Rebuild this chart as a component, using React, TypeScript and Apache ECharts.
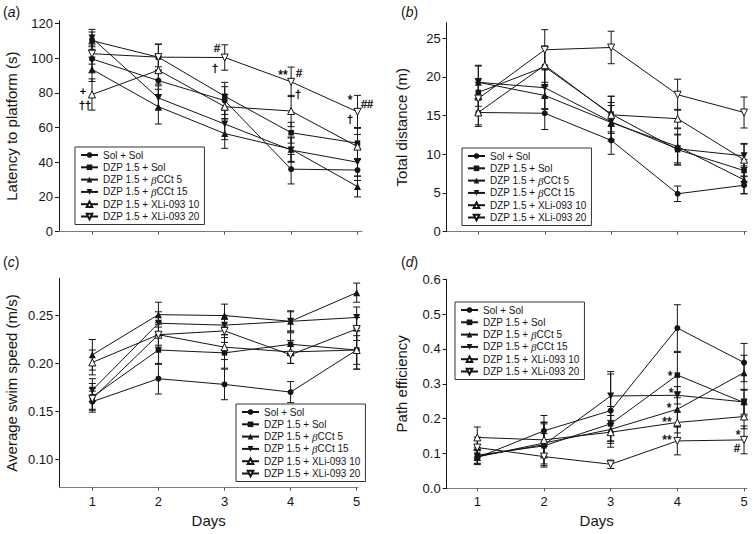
import React, { useEffect, useRef } from 'react';
import * as echarts from 'echarts';

const days = [1, 2, 3, 4, 5];
const groups = [
  'Sol + Sol',
  'DZP 1.5 + Sol',
  'DZP 1.5 + βCCt 5',
  'DZP 1.5 + βCCt 15',
  'DZP 1.5 + XLi-093 10',
  'DZP 1.5 + XLi-093 20',
];

// (a) Latency to platform (s): one row per group, one value per day
const latencyMean = [
  [99.5, 87, 75.5, 36, 35.5],
  [110, 100.5, 78, 57, 51],
  [93.5, 72, 56.5, 47.5, 26],
  [111.5, 77, 62, 47, 40],
  [79, 93, 72, 69.5, 49],
  [102.5, 100.5, 100.3, 86.3, 69],
];
const latencySE = [
  [8, 8, 8, 8.5, 6],
  [5, 7.5, 8, 6, 9],
  [7, 10, 8.5, 7, 6],
  [5, 7, 9, 7, 8],
  [9, 8, 7, 9, 7],
  [6, 7.5, 7.3, 8.5, 9.5],
];

// (b) Total distance (m)
const distanceMean = [
  [15.4, 15.3, 11.8, 4.9, 6.0],
  [18.0, 21.3, 15.2, 10.6, 7.9],
  [19.3, 17.6, 14.1, 11.0, 6.7],
  [19.3, 18.6, 14.2, 10.7, 9.8],
  [15.4, 21.5, 15.1, 14.6, 9.3],
  [17.2, 23.5, 23.8, 17.7, 15.4],
];
const distanceSE = [
  [1.8, 2.1, 1.8, 1.0, 1.1],
  [1.8, 2.5, 2.3, 2.0, 1.4],
  [2.2, 1.7, 2.2, 2.3, 1.8],
  [2.1, 2.8, 2.5, 1.8, 1.5],
  [1.6, 2.5, 2.4, 1.2, 2.1],
  [2.1, 2.6, 2.1, 2.0, 2.0],
];

// (c) Average swim speed (m/s)
const speedMean = [
  [0.160, 0.184, 0.178, 0.170, 0.214],
  [0.165, 0.214, 0.211, 0.220, 0.214],
  [0.209, 0.251, 0.250, 0.244, 0.274],
  [0.172, 0.242, 0.240, 0.244, 0.248],
  [0.201, 0.230, 0.217, 0.212, 0.214],
  [0.163, 0.230, 0.234, 0.209, 0.236],
];
const speedSE = [
  [0.011, 0.016, 0.016, 0.011, 0.020],
  [0.014, 0.015, 0.016, 0.012, 0.015],
  [0.016, 0.013, 0.012, 0.011, 0.010],
  [0.012, 0.012, 0.010, 0.010, 0.011],
  [0.013, 0.011, 0.013, 0.012, 0.020],
  [0.011, 0.013, 0.012, 0.009, 0.012],
];

// (d) Path efficiency
const efficiencyMean = [
  [0.088, 0.165, 0.223, 0.460, 0.361],
  [0.095, 0.122, 0.185, 0.325, 0.246],
  [0.090, 0.130, 0.169, 0.227, 0.332],
  [0.092, 0.125, 0.265, 0.267, 0.248],
  [0.146, 0.139, 0.161, 0.189, 0.206],
  [0.117, 0.091, 0.069, 0.136, 0.139],
];
const efficiencySE = [
  [0.020, 0.044, 0.105, 0.067, 0.055],
  [0.015, 0.035, 0.050, 0.065, 0.038],
  [0.020, 0.060, 0.040, 0.050, 0.050],
  [0.020, 0.060, 0.070, 0.025, 0.035],
  [0.030, 0.050, 0.025, 0.030, 0.035],
  [0.030, 0.030, 0.012, 0.040, 0.040],
];

// significance marks: [day position, value position, text]
const latencyMarks: [number, number, string][] = [
  [0.86, 81.0, '+'],
  [0.895, 72.8, '††'],
  [2.89, 105.9, '#'],
  [2.855, 94.4, '†'],
  [3.885, 92.1, '**'],
  [4.125, 91.2, '#'],
  [4.11, 79.3, '†'],
  [4.89, 77.7, '*'],
  [5.14, 73.5, '##'],
  [4.88, 64.9, '†'],
];
const efficiencyMarks: [number, number, string][] = [
  [3.889, 0.332, '*'],
  [3.9, 0.282, '*'],
  [3.88, 0.238, '*'],
  [3.84, 0.199, '**'],
  [3.84, 0.148, '**'],
  [4.904, 0.163, '*'],
  [4.9, 0.117, '#'],
];

const latencyTicks = [0, 20, 40, 60, 80, 100, 120];
const distanceTicks = [0, 5, 10, 15, 20, 25];
const speedTicks = [0.10, 0.15, 0.20, 0.25];
const efficiencyTicks = [0, 0.1, 0.2, 0.3, 0.4, 0.5, 0.6];

const INK = '#151515';
const FONT = 'Liberation Sans, Arial, Helvetica, sans-serif';
const INV = 'path://M0,0L10,0L5,10Z';
const symbols = ['circle', 'rect', 'triangle', INV, 'triangle', INV];
const symbolSizes = [6, 5.5, 7, 7, 7, 7];
const fills = [INK, INK, INK, INK, '#ffffff', '#ffffff'];

type Panel = {
  label: string;
  grid: { left: number; top: number; width: number; height: number };
  xMin: number;
  xMax: number;
  yMin: number;
  yMax: number;
  ticks: number[];
  fmt: (v: number) => string;
  name: string;
  nameGap: number;
  showX: boolean;
  mean: number[][];
  se: number[][];
  marks: [number, number, string][];
  legend: { left: number; top: number };
  labelPos: [number, number];
};

const panels: Panel[] = [
  {
    label: 'a',
    grid: { left: 59, top: 20.7, width: 303, height: 211 },
    xMin: 0.503, xMax: 5.068, yMin: 0, yMax: 121.5,
    ticks: latencyTicks, fmt: (v) => String(v),
    name: 'Latency to platform (s)', nameGap: 40, showX: false,
    mean: latencyMean, se: latencySE, marks: latencyMarks,
    legend: { left: 75, top: 147 }, labelPos: [3, 5],
  },
  {
    label: 'b',
    grid: { left: 446.7, top: 22.7, width: 300, height: 209 },
    xMin: 0.524, xMax: 5.04, yMin: 0, yMax: 27,
    ticks: distanceTicks, fmt: (v) => String(v),
    name: 'Total distance (m)', nameGap: 38, showX: false,
    mean: distanceMean, se: distanceSE, marks: [],
    legend: { left: 462, top: 148 }, labelPos: [401, 5],
  },
  {
    label: 'c',
    grid: { left: 59.3, top: 278.3, width: 298.7, height: 209.4 },
    xMin: 0.5, xMax: 5.02, yMin: 0.07, yMax: 0.289,
    ticks: speedTicks, fmt: (v) => v.toFixed(2),
    name: 'Average swim speed (m/s)', nameGap: 40, showX: true,
    mean: speedMean, se: speedSE, marks: [],
    legend: { left: 236, top: 404 }, labelPos: [3, 255],
  },
  {
    label: 'd',
    grid: { left: 446.7, top: 279.3, width: 300, height: 209 },
    xMin: 0.541, xMax: 5.04, yMin: 0, yMax: 0.6,
    ticks: efficiencyTicks, fmt: (v) => v.toFixed(1),
    name: 'Path efficiency', nameGap: 38, showX: true,
    mean: efficiencyMean, se: efficiencySE, marks: efficiencyMarks,
    legend: { left: 455, top: 302 }, labelPos: [401, 255],
  },
];

function buildOption() {
  const grid: any[] = [];
  const xAxis: any[] = [];
  const yAxis: any[] = [];
  const series: any[] = [];
  const legend: any[] = [];
  const graphic: any[] = [];

  panels.forEach((p, pi) => {
    grid.push({ ...p.grid, containLabel: false });
    xAxis.push({
      type: 'value',
      gridIndex: pi,
      min: p.xMin,
      max: p.xMax,
      name: p.showX ? 'Days' : '',
      nameLocation: 'middle',
      nameGap: 25,
      nameTextStyle: { fontSize: 15, color: INK, fontFamily: FONT },
      axisLine: { show: true, onZero: false, lineStyle: { color: '#7a7a7a', width: 1 } },
      axisTick: { show: true, length: 3, inside: false, customValues: days, lineStyle: { color: '#555' } },
      axisLabel: {
        show: p.showX,
        customValues: days,
        margin: 7,
        fontSize: 13,
        color: INK,
        fontFamily: FONT,
      },
      splitLine: { show: false },
    });
    yAxis.push({
      type: 'value',
      gridIndex: pi,
      min: p.yMin,
      max: p.yMax,
      name: p.name,
      nameLocation: 'middle',
      nameGap: p.nameGap,
      nameTextStyle: { fontSize: 15, color: INK, fontFamily: FONT },
      axisLine: { show: true, onZero: false, lineStyle: { color: INK, width: 1 } },
      axisTick: { show: true, length: 4, inside: false, customValues: p.ticks, lineStyle: { color: INK } },
      axisLabel: {
        customValues: p.ticks,
        formatter: (v: number) => p.fmt(v),
        margin: 6,
        fontSize: 13,
        color: INK,
        fontFamily: FONT,
      },
      splitLine: { show: false },
    });

    groups.forEach((g, gi) => {
      const mean = p.mean[gi];
      const se = p.se[gi];
      series.push({
        type: 'custom',
        name: 'err-' + pi + '-' + gi,
        xAxisIndex: pi,
        yAxisIndex: pi,
        z: 1,
        silent: true,
        itemStyle: { color: INK },
        encode: { x: 0, y: 1 },
        data: days.map((d, i) => [d, mean[i], se[i]]),
        renderItem: (_params: any, api: any) => {
          const x = api.value(0);
          const y = api.value(1);
          const e = api.value(2);
          const top = api.coord([x, y + e]);
          const bot = api.coord([x, y - e]);
          const hw = 3.5;
          const st = { stroke: INK, lineWidth: 1, fill: null };
          return {
            type: 'group',
            children: [
              { type: 'line', shape: { x1: top[0], y1: top[1], x2: bot[0], y2: bot[1] }, style: st },
              { type: 'line', shape: { x1: top[0] - hw, y1: top[1], x2: top[0] + hw, y2: top[1] }, style: st },
              { type: 'line', shape: { x1: bot[0] - hw, y1: bot[1], x2: bot[0] + hw, y2: bot[1] }, style: st },
            ],
          };
        },
      });
      series.push({
        type: 'line',
        name: g,
        xAxisIndex: pi,
        yAxisIndex: pi,
        z: 3,
        data: days.map((d, i) => [d, mean[i]]),
        symbol: symbols[gi],
        symbolSize: symbolSizes[gi],
        showAllSymbol: true,
        lineStyle: { color: INK, width: 1 },
        itemStyle: { color: fills[gi], borderColor: INK, borderWidth: gi >= 4 ? 1 : 0 },
        emphasis: { disabled: true },
      });
    });

    if (p.marks.length) {
      const marks = p.marks;
      series.push({
        type: 'custom',
        name: 'marks-' + pi,
        xAxisIndex: pi,
        yAxisIndex: pi,
        z: 4,
        silent: true,
        clip: false,
        itemStyle: { color: '#000' },
        encode: { x: 0, y: 1 },
        data: marks.map((m) => [m[0], m[1]]),
        renderItem: (params: any, api: any) => {
          const m = marks[params.dataIndex];
          const pt = api.coord([api.value(0), api.value(1)]);
          const isStar = m[2].indexOf('*') >= 0;
          return {
            type: 'text',
            x: Math.round(pt[0]),
            y: Math.round(pt[1] + (isStar ? 3 : 0)),
            style: {
              text: m[2],
              fill: '#000',
              stroke: '#000',
              lineWidth: 0.3,
              fontSize: isStar ? 12 : 11,
              fontFamily: FONT,
              align: 'center',
              verticalAlign: 'middle',
            },
          };
        },
      });
    }

    legend.push({
      show: true,
      orient: 'vertical',
      left: p.legend.left,
      top: p.legend.top,
      data: groups,
      selectedMode: false,
      itemWidth: 17,
      itemHeight: 7,
      itemGap: 0.3,
      padding: [2, 5, 2, 5],
      backgroundColor: '#ffffff',
      borderColor: '#333',
      borderWidth: 1,
      borderRadius: 0,
      formatter: (name: string) => name.replace('β', '{b|β}'),
      textStyle: {
        fontSize: 10,
        lineHeight: 12,
        color: INK,
        fontFamily: FONT,
        rich: {
          b: { fontSize: 11, fontStyle: 'italic', fontFamily: 'Liberation Serif, serif', color: INK },
        },
      },
    });

    graphic.push({
      type: 'text',
      left: p.labelPos[0],
      top: p.labelPos[1],
      style: {
        text: '({i|' + p.label + '})',
        fontSize: 14,
        fontFamily: FONT,
        fill: INK,
        rich: {
          i: { fontSize: 14, fontStyle: 'italic', fontFamily: FONT, fill: INK },
        },
      },
    });
  });

  return {
    animation: false,
    backgroundColor: '#ffffff',
    textStyle: { fontFamily: FONT },
    grid,
    xAxis,
    yAxis,
    series,
    legend,
    graphic,
  };
}

export default function App() {
  const ref = useRef<HTMLDivElement>(null);
  useEffect(() => {
    document.body.style.margin = '0';
    if (!ref.current) return;
    const chart = echarts.init(ref.current, null, { renderer: 'svg' });
    chart.setOption(buildOption());
    return () => chart.dispose();
  }, []);
  return <div ref={ref} style={{ width: 753, height: 534 }} />;
}
